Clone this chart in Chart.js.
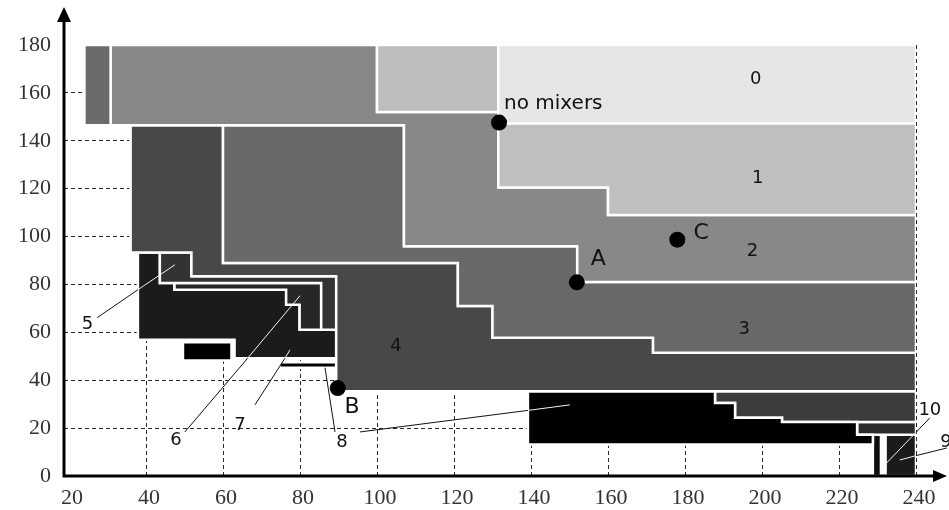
<!DOCTYPE html>
<html>
<head>
<meta charset="utf-8">
<script src="https://cdn.jsdelivr.net/npm/chart.js@4.4.0/dist/chart.umd.min.js"></script>
<style>
  html, body { margin: 0; padding: 0; background: #fff; }
  #wrap { width: 949px; height: 510px; }
</style>
</head>
<body>
<div id="wrap"><canvas id="regionChart" width="949" height="510"></canvas></div>
<script>
const xTicks = [20, 40, 60, 80, 100, 120, 140, 160, 180, 200, 220, 240];
const yTicks = [0, 20, 40, 60, 80, 100, 120, 140, 160, 180];

// regions as [x, y] corners
const region0 = [[131.5,180],[240,180],[240,147.3],[131.5,147.3]];
const lightBox = [[100,180],[131.5,180],[131.5,152],[100,152]];
const region1 = [[131.5,147.3],[240,147.3],[240,109],[160,109],[160,120.5],[131.5,120.5]];
const leftStrip = [[24,180],[30.8,180],[30.8,146.5],[24,146.5]];
const region2 = [[30.8,180],[100,180],[100,152],[131.5,152],[131.5,120.5],[160,120.5],[160,109],[240,109],
  [240,81],[152,81],[152,96],[107,96],[107,146.5],[30.8,146.5]];
const region3 = [[60,146.5],[107,146.5],[107,96],[152,96],[152,81],[240,81],[240,51.5],[171.7,51.5],
  [171.7,57.7],[130,57.7],[130,71],[121,71],[121,89],[60,89]];
const region4 = [[36,146.5],[60,146.5],[60,89],[121,89],[121,71],[130,71],[130,57.7],[171.7,57.7],
  [171.7,51.5],[240,51.5],[240,35.4],[89.4,35.4],[89.4,83.4],[51.8,83.4],[51.8,93.3],[36,93.3]];
const region5 = [[43.6,93.3],[51.8,93.3],[51.8,83.4],[89.4,83.4],[89.4,61.1],[85.5,61.1],[85.5,80.6],[43.6,80.6]];
const region6 = [[47.4,80.6],[85.5,80.6],[85.5,61.1],[79.9,61.1],[79.9,71.5],[76.4,71.5],[76.4,77.8],[47.4,77.8]];
const region7 = [[37.9,93.3],[43.6,93.3],[43.6,80.6],[47.4,80.6],[47.4,77.8],[76.4,77.8],[76.4,71.5],[79.9,71.5],
  [79.9,61.1],[89.4,61.1],[89.4,49.2],[63,49.2],[63,56.9],[37.9,56.9]];
const box7 = [[49.6,55.9],[62.2,55.9],[62.2,48.2],[49.6,48.2]];
const bar8 = [[74.7,47.5],[89.4,47.5],[89.4,45.2],[74.7,45.2]];
const region8 = [[139.2,35.4],[187.8,35.4],[187.8,30.5],[193,30.5],[193,24.3],[205.2,24.3],[205.2,22.6],
  [224.7,22.6],[224.7,17.2],[228.8,17.2],[228.8,13.2],[139.2,13.2]];
const stairRight = [[187.8,35.4],[240,35.4],[240,22.6],[205.2,22.6],[205.2,24.3],[193,24.3],[193,30.5],[187.8,30.5]];
const smallBox = [[224.7,22.6],[240,22.6],[240,17.2],[224.7,17.2]];
const column10 = [[228.8,17.2],[230.9,17.2],[230.9,0],[228.8,0]];
const box9 = [[232.1,17.2],[240,17.2],[240,0],[232.1,0]];

// marked points
const dotX = [131.7, 151.9, 89.8, 178];
const dotY = [147.6, 80.9, 36.7, 98.7];

// text in the plot
const labelText = ['no mixers', '0', '1', '2', '3', '4', 'A', 'B', 'C', '5', '6', '7', '8', '9', '10'];
const labelX = [133, 198.4, 198.9, 197.5, 195.4, 104.9, 157.5, 93.5, 184.2, 24.8, 47.8, 64.4, 90.9, 247.8, 243.6];
const labelY = [155.3, 165.7, 124.3, 93.9, 61.1, 54.1, 90.4, 28.5, 101.5, 63.2, 15.1, 21.3, 14.2, 14, 27.6];

// leader lines from labels, split where they enter a dark region
const leadersOnWhite = [
  [[27.3,66.1],[37.9,77.8]],
  [[50.1,18.4],[66.4,49.2]],
  [[68.3,29.7],[76.1,49.2]],
  [[89.1,18.4],[86.5,45.2]],
  [[95.6,18.4],[139.2,27.4]],
  [[248,11.7],[240,8.5]],
  [[243.6,24.3],[240,18.2]]
];
const leadersOnDark = [
  [[37.9,77.8],[47.5,88.2]],
  [[66.4,49.2],[80,75.3]],
  [[76.1,49.2],[77.4,52.7]],
  [[139.2,27.4],[150.1,29.7]],
  [[240,8.5],[235.8,6.7]],
  [[240,18.2],[230.6,2.5]]
];

const toPoints = arr => arr.map(p => ({x: p[0], y: p[1]}));

function regionSet(corners, color) {
  return {
    type: 'line',
    data: toPoints(corners.concat([corners[0]])),
    fill: 'shape',
    backgroundColor: color,
    borderColor: '#fff',
    borderWidth: 2.5,
    pointRadius: 0,
    tension: 0
  };
}

function leaderSet(seg, color) {
  return {
    type: 'line',
    data: toPoints(seg),
    borderColor: color,
    borderWidth: 1,
    pointRadius: 0,
    fill: false,
    clip: false
  };
}

const datasets = [];
datasets.push({
  type: 'line',
  data: dotX.map((x, i) => ({x: x, y: dotY[i]})),
  showLine: false,
  pointRadius: 8,
  pointBackgroundColor: '#000',
  pointBorderWidth: 0,
  clip: false
});
leadersOnWhite.forEach(s => datasets.push(leaderSet(s, '#111')));
leadersOnDark.forEach(s => datasets.push(leaderSet(s, '#f2f2f2')));
[
  [region0, '#e6e6e6'], [lightBox, '#bdbdbd'], [region1, '#bfbfbf'], [leftStrip, '#6b6b6b'],
  [region2, '#888888'], [region3, '#696969'], [region4, '#484848'], [region5, '#333333'],
  [region6, '#272727'], [region7, '#1b1b1b'], [box7, '#000000'], [bar8, '#000000'],
  [region8, '#000000'], [stairRight, '#3c3c3c'], [smallBox, '#2c2c2c'], [column10, '#0d0d0d'],
  [box9, '#1b1b1b']
].forEach(r => datasets.push(regionSet(r[0], r[1])));

const plotText = {
  id: 'plotText',
  afterDatasetsDraw(chart) {
    const {ctx, scales: {x, y}} = chart;
    ctx.save();
    ctx.fillStyle = '#111';
    ctx.textBaseline = 'middle';
    labelText.forEach((t, i) => {
      let size = 18;
      if (t.length > 2) size = 20;
      else if (/^[ABC]$/.test(t)) size = 22;
      ctx.font = size + 'px "DejaVu Sans"';
      ctx.textAlign = t.length > 2 ? 'left' : 'center';
      ctx.fillText(t, x.getPixelForValue(labelX[i]), y.getPixelForValue(labelY[i]));
    });
    ctx.restore();
  }
};

const axisArrows = {
  id: 'axisArrows',
  afterDraw(chart) {
    const {ctx, chartArea: a} = chart;
    ctx.save();
    ctx.strokeStyle = '#000';
    ctx.fillStyle = '#000';
    ctx.lineWidth = 3;
    ctx.beginPath();
    ctx.moveTo(a.left, a.bottom + 1.5);
    ctx.lineTo(a.left, a.top - 24);
    ctx.moveTo(a.left - 1.5, a.bottom);
    ctx.lineTo(a.right + 20, a.bottom);
    ctx.stroke();
    ctx.beginPath();
    ctx.moveTo(a.left, a.top - 38);
    ctx.lineTo(a.left - 7, a.top - 23);
    ctx.lineTo(a.left + 7, a.top - 23);
    ctx.closePath();
    ctx.fill();
    ctx.beginPath();
    ctx.moveTo(a.right + 31, a.bottom);
    ctx.lineTo(a.right + 17, a.bottom - 6);
    ctx.lineTo(a.right + 17, a.bottom + 6);
    ctx.closePath();
    ctx.fill();
    ctx.restore();
  }
};

const tickFont = {family: '"Liberation Serif", serif', size: 22};

new Chart(document.getElementById('regionChart'), {
  type: 'line',
  data: {datasets: datasets},
  options: {
    responsive: false,
    animation: false,
    events: [],
    devicePixelRatio: 1,
    layout: {padding: {top: 45, right: 33, bottom: 0, left: 0}},
    plugins: {legend: {display: false}, tooltip: {enabled: false}},
    scales: {
      x: {
        type: 'linear',
        min: 18.7,
        max: 240,
        afterBuildTicks: s => { s.ticks = xTicks.map(v => ({value: v})); },
        afterFit: s => { s.height = 34; },
        grid: {
          drawTicks: false,
          lineWidth: 1,
          color: c => (c.tick && c.tick.value === 20) ? 'rgba(0,0,0,0)' : '#2a2a2a'
        },
        border: {display: false, dash: [4, 3]},
        ticks: {font: tickFont, color: '#333', padding: 9, autoSkip: false, maxRotation: 0, labelOffset: 3}
      },
      y: {
        type: 'linear',
        min: 0,
        max: 180,
        afterBuildTicks: s => { s.ticks = yTicks.map(v => ({value: v})); },
        afterFit: s => { s.width = 64; },
        grid: {
          drawTicks: false,
          lineWidth: 1,
          color: c => (c.tick && (c.tick.value === 0 || c.tick.value === 180)) ? 'rgba(0,0,0,0)' : '#2a2a2a'
        },
        border: {display: false, dash: [4, 3]},
        ticks: {font: tickFont, color: '#333', padding: 13}
      }
    }
  },
  plugins: [plotText, axisArrows]
});
</script>
</body>
</html>
